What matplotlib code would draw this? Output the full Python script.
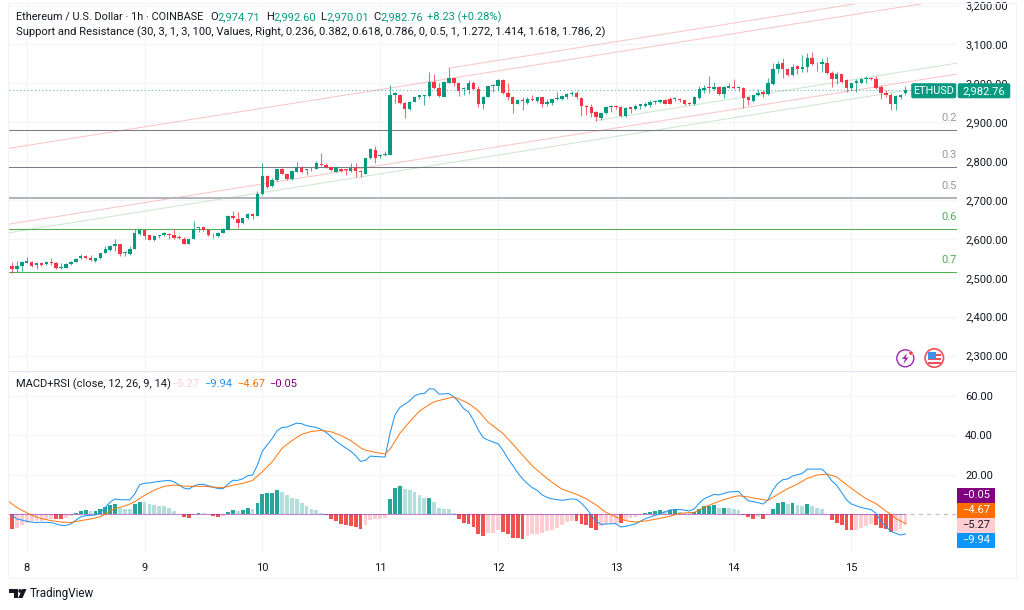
"""
ETH/USD 1h candles with support/resistance levels and a MACD panel.
All values were read off the reference picture by eye.
"""

import matplotlib

matplotlib.use("Agg")
import matplotlib.pyplot as plt
from matplotlib.patches import Circle, FancyBboxPatch, Polygon, Rectangle

plt.rcParams["font.family"] = ["Roboto", "DejaVu Sans"]

# ---------------------------------------------------------------------------
# 1. Data
# ---------------------------------------------------------------------------

opens = [
    2531, 2522, 2531, 2539, 2541, 2533, 2539, 2535, 2541, 2538,
    2525, 2526, 2535, 2541, 2550, 2556, 2552, 2543, 2550, 2564,
    2571, 2582, 2586, 2563, 2562, 2575, 2612, 2623, 2609, 2597,
    2607, 2609, 2612, 2611, 2605, 2600, 2588, 2601, 2627, 2630,
    2623, 2611, 2608, 2616, 2624, 2659, 2652, 2640, 2654, 2664,
    2659, 2716, 2763, 2735, 2751, 2779, 2767, 2754, 2773, 2783,
    2777, 2779, 2780, 2793, 2790, 2786, 2773, 2781, 2779, 2775,
    2783, 2775, 2767, 2808, 2828, 2812, 2815, 2817, 2971, 2971,
    2949, 2934, 2953, 2964, 2967, 2967, 3003, 2987, 2965, 3001,
    3013, 3001, 2985, 2983, 3000, 2986, 2948, 2965, 2993, 2993,
    3008, 2974, 2965, 2948, 2957, 2950, 2959, 2954, 2965, 2948,
    2950, 2959, 2961, 2965, 2973, 2975, 2963, 2942, 2938, 2927,
    2912, 2923, 2940, 2942, 2939, 2916, 2938, 2934, 2942, 2943,
    2944, 2953, 2953, 2958, 2959, 2959, 2960, 2956, 2949, 2947,
    2963, 2984, 2990, 2985, 2991, 2972, 2989, 2990, 2988, 2989,
    2965, 2955, 2969, 2977, 2972, 2998, 3036, 3052, 3038, 3022,
    3044, 3037, 3042, 3065, 3051, 3049, 3053, 3027, 3010, 3023,
    3008, 2987, 3000, 3001, 3010, 3013, 3012, 2991, 2974, 2971,
    2948, 2965, 2974.71,
]
highs = [
    2541, 2544, 2544, 2554, 2543, 2540, 2540, 2544, 2552, 2540,
    2537, 2537, 2543, 2550, 2561, 2558, 2558, 2552, 2565, 2582,
    2584, 2599, 2587, 2570, 2582, 2626, 2625, 2624, 2611, 2611,
    2611, 2617, 2614, 2625, 2609, 2604, 2602, 2646, 2631, 2632,
    2624, 2614, 2618, 2627, 2661, 2672, 2670, 2654, 2666, 2666,
    2722, 2794, 2765, 2756, 2781, 2783, 2770, 2776, 2797, 2788,
    2780, 2784, 2800, 2822, 2794, 2788, 2785, 2783, 2781, 2794,
    2794, 2777, 2809, 2833, 2840, 2818, 2827, 2997, 2977, 2973,
    2951, 2954, 2965, 2971, 2971, 3029, 3025, 3002, 3005, 3039,
    3015, 3004, 2991, 3008, 3006, 2993, 2968, 2994, 2998, 3011,
    3010, 3000, 2967, 2959, 2965, 2965, 2970, 2966, 2966, 2959,
    2961, 2978, 2971, 2975, 2981, 2981, 2965, 2944, 2948, 2929,
    2924, 2942, 2944, 2944, 2941, 2939, 2940, 2948, 2948, 2952,
    2957, 2958, 2959, 2961, 2965, 2965, 2962, 2958, 2952, 2968,
    2993, 2995, 3020, 3003, 2993, 2993, 3001, 3010, 2994, 2991,
    2966, 2971, 2986, 2983, 3013, 3053, 3057, 3064, 3040, 3049,
    3046, 3073, 3079, 3080, 3055, 3064, 3067, 3032, 3029, 3025,
    3012, 3001, 3010, 3015, 3019, 3016, 3020, 2995, 2984, 2974,
    2969, 2973, 2992.60,
]
lows = [
    2511, 2516, 2518, 2537, 2528, 2523, 2530, 2533, 2533, 2523,
    2522, 2525, 2534, 2540, 2548, 2548, 2543, 2541, 2549, 2563,
    2569, 2569, 2556, 2557, 2559, 2574, 2610, 2599, 2596, 2595,
    2603, 2607, 2601, 2599, 2600, 2587, 2587, 2599, 2617, 2620,
    2607, 2603, 2605, 2614, 2622, 2650, 2627, 2638, 2652, 2652,
    2658, 2714, 2730, 2733, 2749, 2766, 2752, 2752, 2771, 2770,
    2764, 2774, 2779, 2787, 2782, 2774, 2771, 2772, 2765, 2772,
    2758, 2760, 2766, 2806, 2796, 2808, 2814, 2815, 2950, 2947,
    2911, 2932, 2951, 2961, 2944, 2965, 2986, 2965, 2964, 3000,
    2993, 2967, 2970, 2973, 2983, 2938, 2935, 2964, 2978, 2980,
    2972, 2957, 2923, 2947, 2931, 2948, 2954, 2953, 2940, 2943,
    2945, 2957, 2957, 2959, 2967, 2961, 2917, 2918, 2914, 2903,
    2907, 2921, 2926, 2935, 2913, 2913, 2923, 2931, 2935, 2940,
    2940, 2948, 2950, 2947, 2947, 2954, 2953, 2944, 2944, 2945,
    2960, 2974, 2976, 2983, 2971, 2962, 2987, 2986, 2981, 2937,
    2944, 2952, 2967, 2965, 2971, 2996, 3027, 3015, 3019, 3020,
    3024, 3029, 3029, 3048, 3032, 3029, 3024, 2991, 2998, 3001,
    2979, 2984, 2979, 3000, 3001, 3008, 2986, 2960, 2965, 2931,
    2932, 2959, 2970.01,
]
closes = [
    2522, 2531, 2541, 2542, 2531, 2538, 2534, 2540, 2539, 2525,
    2528, 2535, 2541, 2549, 2557, 2552, 2545, 2550, 2564, 2573,
    2582, 2586, 2560, 2566, 2575, 2615, 2623, 2608, 2598, 2607,
    2610, 2614, 2611, 2602, 2603, 2588, 2601, 2626, 2630, 2622,
    2610, 2609, 2615, 2625, 2658, 2653, 2641, 2653, 2664, 2659,
    2716, 2763, 2733, 2752, 2779, 2767, 2754, 2774, 2784, 2773,
    2779, 2781, 2794, 2789, 2785, 2776, 2784, 2775, 2777, 2783,
    2774, 2771, 2808, 2830, 2809, 2815, 2819, 2970, 2974, 2949,
    2935, 2952, 2964, 2969, 2969, 3003, 2988, 2967, 3003, 3013,
    3001, 2981, 2988, 3000, 2985, 2947, 2965, 2992, 2996, 3008,
    2974, 2965, 2947, 2957, 2954, 2959, 2956, 2965, 2947, 2953,
    2959, 2962, 2967, 2973, 2975, 2964, 2941, 2938, 2925, 2913,
    2923, 2940, 2942, 2940, 2916, 2937, 2935, 2942, 2946, 2948,
    2953, 2955, 2957, 2948, 2948, 2962, 2956, 2946, 2946, 2965,
    2985, 2988, 2989, 2991, 2972, 2990, 2993, 2989, 2990, 2962,
    2957, 2970, 2975, 2973, 3000, 3036, 3051, 3038, 3021, 3043,
    3037, 3043, 3065, 3049, 3049, 3054, 3026, 3011, 3024, 3003,
    2987, 3000, 3005, 3012, 3014, 3011, 2989, 2976, 2971, 2948,
    2967, 2971, 2982.76,
]

hist = [
    -7.3, -6.7, -5.6, -4.2, -3.4, -3.4, -3.3, -2.4, -2.4, -2.5,
    -2.6, -1.7, -0.7, 0.7, 1.9, 2.0, 1.7, 1.9, 2.7, 3.5,
    4.6, 5.4, 3.2, 2.9, 2.8, 5.1, 6.4, 6.1, 5.1, 4.7,
    4.2, 4.0, 3.2, 1.7, 0.3, -1.2, -1.7, -0.2, 0.7, 0.5,
    0.2, -0.8, -1.5, -0.7, 1.2, 2.2, 1.9, 2.4, 3.0, 2.9,
    5.7, 10.5, 10.6, 10.8, 12.3, 11.3, 9.6, 8.3, 7.6, 5.6,
    4.2, 2.5, 2.0, 0.8, -0.2, -2.5, -3.2, -4.7, -5.6, -5.9,
    -6.4, -7.4, -5.2, -3.0, -2.4, -2.2, -1.9, 7.9, 13.5, 14.3,
    12.8, 12.1, 11.3, 9.8, 8.3, 8.4, 6.4, 3.2, 2.9, 2.7,
    0.7, -2.2, -4.2, -4.9, -6.4, -10.1, -11.0, -9.6, -9.3, -7.8,
    -8.8, -9.8, -11.8, -12.1, -12.3, -11.0, -10.1, -9.8, -9.4, -8.4,
    -7.9, -6.7, -5.4, -4.0, -3.4, -3.5, -4.7, -5.4, -6.7, -7.8,
    -6.1, -4.7, -4.2, -4.2, -4.6, -3.0, -2.0, -1.2, -0.3, 0.7,
    1.2, 1.7, 2.4, 1.9, 2.4, 2.7, 1.3, 0.8, 0.5, 1.3,
    2.9, 4.0, 4.2, 4.7, 3.2, 3.4, 3.2, 2.7, 2.2, -0.3,
    -1.5, -2.4, -1.3, -2.4, -0.2, 2.9, 5.6, 6.4, 5.4, 5.6,
    4.7, 4.2, 5.1, 4.2, 3.2, 2.5, 0.2, -2.9, -4.2, -5.6,
    -7.8, -8.1, -7.9, -7.1, -6.1, -4.7, -5.6, -7.1, -7.6, -8.8,
    -8.4, -7.3, -5.27,
]

macd_idx = [
    1, 2, 3, 4, 5, 6, 7, 9, 10, 11, 12, 13, 14, 15, 16, 18, 19, 20, 21, 22,
    23, 25, 26, 27, 28, 29, 31, 33, 34, 36, 37, 38, 39, 40, 42, 43, 44, 45,
    46, 47, 48, 49, 50, 51, 52, 54, 55, 56, 57, 58, 59, 60, 61, 63, 64, 65,
    66, 67, 68, 70, 71, 72, 73, 74, 75, 77, 78, 79, 80, 81, 82, 83, 84, 85,
    86, 87, 88, 89, 90, 91, 92, 93, 94, 95, 96, 97, 98, 99, 100, 101, 102,
    103, 104, 105, 106, 107, 108, 109, 110, 111, 113, 115, 116, 117, 118,
    119, 120, 121, 122, 124, 125, 126, 128, 130, 132, 133, 135, 137, 139,
    140, 141, 142, 144, 145, 147, 149, 150, 151, 153, 154, 155, 156, 157,
    158, 159, 160, 162, 163, 166, 167, 168, 169, 170, 171, 172, 174, 176,
    177, 178, 179, 180, 181, 182, 183,
]
macd_line = [
    -0.5, -2.4, -2.9, -3.5, -3.9, -4.2, -4.0, -4.2, -4.9, -5.6, -5.6, -4.9,
    -3.0, -1.3, -0.7, -0.3, 0.8, 3.5, 6.2, 7.8,
    7.4, 7.3, 10.3, 15.0, 15.7, 15.9, 16.7, 17.2, 16.5, 13.3, 12.8, 14.2,
    15.2, 15.2, 13.7, 13.0, 13.0, 15.3,
    17.2, 17.2, 18.0, 19.6, 19.9, 25.0, 32.0, 38.4, 42.3, 44.0, 44.2, 45.2,
    46.2, 45.9, 44.9, 44.0, 43.0, 41.5,
    39.3, 37.1, 35.2, 32.0, 29.7, 26.8, 27.3, 29.5, 29.3, 29.0, 41.0, 50.3,
    54.1, 55.8, 57.5, 60.0, 61.0, 61.2,
    63.6, 63.4, 60.9, 61.0, 61.2, 59.5, 57.0, 53.6, 51.9, 47.7, 42.7, 38.8,
    37.6, 36.6, 35.8, 32.5, 28.3,
    24.8, 21.1, 18.0, 15.5, 13.5, 12.1, 9.8, 8.6, 7.8, 7.1, 7.8, 7.6, 5.6, 3.0,
    -0.3, -3.5, -5.1, -4.9, -4.7, -6.4, -6.1, -4.9, -2.2, -0.5, 0.2, 2.2, 2.5, 1.7,
    2.7, 5.7, 7.9, 10.1, 9.8, 11.3, 11.6, 8.9, 6.9, 5.9, 5.2, 7.3, 12.3, 15.7,
    17.5, 17.9, 19.4, 20.7, 22.9, 22.9, 20.4, 16.9, 14.7, 11.0, 7.3, 5.2, 3.4, 2.4,
    0.5, -3.4, -6.2, -8.6, -9.6, -10.5, -9.94,
]

signal_idx = [
    0, 1, 2, 3, 4, 5, 7, 9, 11, 13, 15, 17, 19, 21, 22, 24, 25, 26, 28, 30,
    32, 34, 36, 38, 40, 42, 44, 46, 48, 50, 52, 54, 56, 58, 60, 62, 64, 66,
    68, 70, 72, 73, 75, 77, 78, 80, 82, 84, 86, 87, 89, 91, 92, 94, 96, 98,
    101, 103, 105, 107, 109, 111, 113, 116, 118, 120, 122, 124, 126, 128,
    130, 132, 135, 137, 140, 142, 144, 146, 148, 149, 151, 153, 155, 157,
    159, 161, 163, 165, 167, 169, 171, 173, 175, 177, 179, 180, 181, 182, 183,
]
signal_line = [
    7.2, 5.2, 3.5, 2.0, 0.8, -0.5, -2.2, -3.2, -3.9, -4.2, -3.2, -2.4, -1.2,
    1.5, 3.0, 4.2, 5.2, 6.4, 9.6, 12.3,
    14.2, 14.8, 14.3, 14.2, 14.2, 13.8, 13.5, 14.7, 15.7, 17.2, 21.6, 26.6,
    33.4, 37.3, 40.5, 42.0, 42.5, 41.8,
    40.0, 37.3, 33.7, 32.5, 31.4, 30.5, 33.0, 41.0, 46.9, 52.3, 55.6, 57.0,
    58.3, 59.4, 58.5, 56.2, 52.4, 46.7,
    41.0, 35.6, 30.0, 24.5, 20.2, 16.2, 12.8, 10.1, 7.9, 4.7, 1.0, -1.3, -3.2, -3.9,
    -3.4, -2.5, -1.0, 0.5, 1.0, 3.5, 5.6, 7.4, 8.9, 9.4, 8.8, 7.8, 7.1, 10.1,
    13.0, 15.3, 18.2, 19.9, 20.4, 18.9, 15.0, 11.3, 7.9, 5.4, 1.7, 0.0, -2.0, -3.4, -4.67,
]

# support/resistance levels: price, label, colour, width
level_prices = [2881, 2784, 2705, 2626, 2514]
level_labels = ["0.2", "0.3", "0.5", "0.6", "0.7"]
level_colors = ["#787b86", "#787b86", "#b2b5be", "#4caf50", "#4caf50"]
level_widths = [0.75, 0.75, 1.45, 0.75, 0.75]

# sloped channel lines: (start index, start price, end index, end price)
pink_channels = [(0.39, 2833, 187, 3206), (89.9, 3039, 173.5, 3206), (0.39, 2638, 193.5, 3024)]
green_channels = [(0.39, 2616, 183.7, 2983), (119.8, 2904, 193.5, 3052)]

price_ticks = [2300, 2400, 2500, 2600, 2700, 2800, 2900, 3000, 3100, 3200]
macd_ticks = [20, 40, 60]
day_ticks = [4, 28, 52, 76, 100, 124, 148, 172]
day_labels = ["8", "9", "10", "11", "12", "13", "14", "15"]

last_close = closes[-1]
xs = list(range(1, len(closes) + 1))

# ---------------------------------------------------------------------------
# 2. Layout (everything in reference pixels)
# ---------------------------------------------------------------------------

W, H = 1024, 610
UP = "#089981"
DOWN = "#f23645"
GRID = "#f3f4f8"
TEXT = "#131722"
FONT = 8.0

fig = plt.figure(figsize=(W / 100, H / 100), dpi=100)
fig.patch.set_facecolor("white")


def px_axes(left, top, right, bottom):
    return fig.add_axes([left / W, 1 - bottom / H, (right - left) / W, (bottom - top) / H])


ax = px_axes(9, 3, 957, 370)
ax2 = px_axes(9, 371, 957, 553)

for a in (ax, ax2):
    a.set_xlim(0.39, 193.5)
    a.set_xticks(day_ticks)
    a.grid(True, color=GRID, lw=0.75)
    a.set_axisbelow(True)
    a.tick_params(length=0, labelsize=FONT, labelcolor=TEXT)
    a.yaxis.tick_right()
    a.tick_params(axis="y", pad=5.8)
    for s in a.spines.values():
        s.set_visible(False)

# ---------------------------------------------------------------------------
# 3. Price panel
# ---------------------------------------------------------------------------

ax.set_ylim(2262.8, 3206.7)
ax.set_yticks(price_ticks)
ax.set_yticklabels([f"{p:,.2f}" for p in price_ticks])
ax.set_xticklabels([])

for x0, p0, x1, p1 in pink_channels:
    ax.plot([x0, x1], [p0, p1], color="#f9c6c6", lw=0.75, zorder=1.5)
for x0, p0, x1, p1 in green_channels:
    ax.plot([x0, x1], [p0, p1], color="#cfe6cf", lw=0.75, zorder=1.5)

for p, label, c, w in zip(level_prices, level_labels, level_colors, level_widths):
    ax.axhline(p, color=c, lw=w, zorder=1.6)
    ax.annotate(label, (193.5, p), xytext=(0, 5), textcoords="offset points",
                ha="right", va="bottom", color=c if c == "#4caf50" else "#9598a1",
                fontsize=FONT)

ax.axhline(last_close, color=UP, lw=0.75, ls=(0, (1, 2.5)), alpha=0.7, zorder=1.7)

colors = [UP if c >= o else DOWN for o, c in zip(opens, closes)]
ax.vlines(xs, lows, highs, colors=colors, lw=0.75, alpha=0.75, zorder=2)
ax.bar(xs, [abs(c - o) for o, c in zip(opens, closes)],
       bottom=[min(o, c) for o, c in zip(opens, closes)],
       width=0.7, color=colors, lw=0, zorder=3)

# ---------------------------------------------------------------------------
# 4. MACD panel
# ---------------------------------------------------------------------------

ax2.set_ylim(-19.6, 72.6)
ax2.set_yticks(macd_ticks)
ax2.set_yticklabels([f"{v:.2f}" for v in macd_ticks])
ax2.set_xticklabels(day_labels)
ax2.tick_params(axis="x", pad=7)

hist_colors = []
for i, v in enumerate(hist):
    prev = hist[i - 1] if i else v + 1
    if v >= 0:
        hist_colors.append("#26a69a" if v > prev else "#b2dfdb")
    else:
        hist_colors.append("#ef5350" if v < prev else "#ffcdd2")

ax2.bar(xs, hist, width=0.78, color=hist_colors, lw=0, zorder=2)
ax2.plot([0.39, xs[-1]], [0, 0], color="#9c27b0", lw=0.75, alpha=0.6, zorder=2.5)
ax2.plot([xs[-1] + 1, 193.5], [0, 0], color="#c4c6cc", lw=1, ls=(0, (3, 3)), zorder=2.5)
ax2.plot(macd_idx, macd_line, color="#2196f3", lw=0.75, zorder=3)
ax2.plot(signal_idx, signal_line, color="#ff6d00", lw=0.75, alpha=0.9, zorder=4)

# ---------------------------------------------------------------------------
# 5. Overlay: legends, price boxes, borders, icons, logo
# ---------------------------------------------------------------------------

ov = fig.add_axes([0, 0, 1, 1], zorder=10)
ov.set_xlim(0, W)
ov.set_ylim(H, 0)
ov.axis("off")
ov.patch.set_alpha(0)

# chart frame
for xy in [([8, 1016], [3, 3]), ([8, 1016], [578, 578]), ([8, 8], [3, 578]),
           ([1016, 1016], [3, 578])]:
    ov.plot(*xy, color="#f0f3fa", lw=0.75)
ov.plot([9, 1016], [370.5, 370.5], color="#e0e3eb", lw=0.75)

# legend rows
ov.text(16, 17, "Ethereum / U.S. Dollar · 1h · COINBASE", color=TEXT, fontsize=7.8, va="center")
for x, s, c in [(210, "O", TEXT), (217.5, "2,974.71", UP), (266, "H", TEXT), (273, "2,992.60", UP),
                (320, "L", TEXT), (326, "2,970.01", UP), (373, "C", TEXT),
                (380, "2,982.76", UP), (427, "+8.23 (+0.28%)", UP)]:
    ov.text(x, 17, s, color=c, fontsize=FONT, va="center")
ov.text(16, 32, "Support and Resistance (30, 3, 1, 3, 100, Values, Right, 0.236, 0.382, "
        "0.618, 0.786, 0, 0.5, 1, 1.272, 1.414, 1.618, 1.786, 2)",
        color=TEXT, fontsize=8.08, va="center")

for x, s, c in [(16, "MACD+RSI (close, 12, 26, 9, 14)", TEXT), (171, "\u22125.27", "#ffcdd2"),
                (204, "\u22129.94", "#2196f3"), (237, "\u22124.67", "#ff6d00"),
                (269, "\u22120.05", "#800080")]:
    ov.text(x, 384, s, color=c, fontsize=FONT, va="center")

# last price boxes
for x0, x1, s, fs in [(911, 956.5, "ETHUSD", 7.8), (957.5, 1010.5, f"{last_close:,.2f}", FONT)]:
    ov.add_patch(FancyBboxPatch((x0 + 1, 84), x1 - x0 - 2, 13.5, boxstyle="round,pad=0,rounding_size=1",
                                fc=UP, ec=UP, lw=1.1))
    ov.text((x0 + x1) / 2, 91, s, color="white", fontsize=fs, ha="center", va="center")

# MACD value boxes
for y0, c, s, tc in [(487.7, "#800080", "\u22120.05", "white"), (502.7, "#ff6d00", "\u22124.67", "white"),
                     (517.7, "#ffcdd2", "\u22125.27", TEXT), (532.9, "#0f94f7", "\u22129.94", "white")]:
    ov.add_patch(Rectangle((957.3, y0), 38, 15, fc=c, ec="none"))
    ov.text(976.3, y0 + 7.5, s, color=tc, fontsize=FONT, ha="center", va="center")

# lightning icon
ov.add_patch(Circle((905.3, 358.3), 8.5, fc="white", ec="#9c27b0", lw=1.0))
ov.add_patch(Polygon([(907, 353), (902, 359), (905, 359), (903.5, 364), (908.5, 357.5), (905.5, 357.5)],
                     fc="#9c27b0", ec="none"))
ov.add_patch(Circle((911, 353), 2.1, fc="#f23645", ec="white", lw=0.4))

# US flag icon
ov.add_patch(Circle((934.3, 358), 9.2, fc="white", ec="#f0505a", lw=1.2))
for y0, h in [(354, 2), (358, 2), (362, 2)]:
    ov.add_patch(Rectangle((927.5, y0), 13.6, h, fc="#f0505a", ec="none"))
ov.add_patch(Rectangle((928, 351.5), 7.5, 7, fc="#3f8fe8", ec="none"))

# TradingView logo
ov.add_patch(Polygon([(9, 589), (17.5, 589), (17.5, 598), (13.5, 598), (13.5, 593), (9, 593)], fc=TEXT, ec="none"))
ov.add_patch(Circle((20.2, 591), 1.9, fc=TEXT, ec="none"))
ov.add_patch(Polygon([(22.5, 589), (26.5, 589), (22.5, 598), (18.2, 598)], fc=TEXT, ec="none"))
ov.text(30, 594, "TradingView", color=TEXT, fontsize=8.4, va="center")

fig.savefig("out.png", dpi=100)
